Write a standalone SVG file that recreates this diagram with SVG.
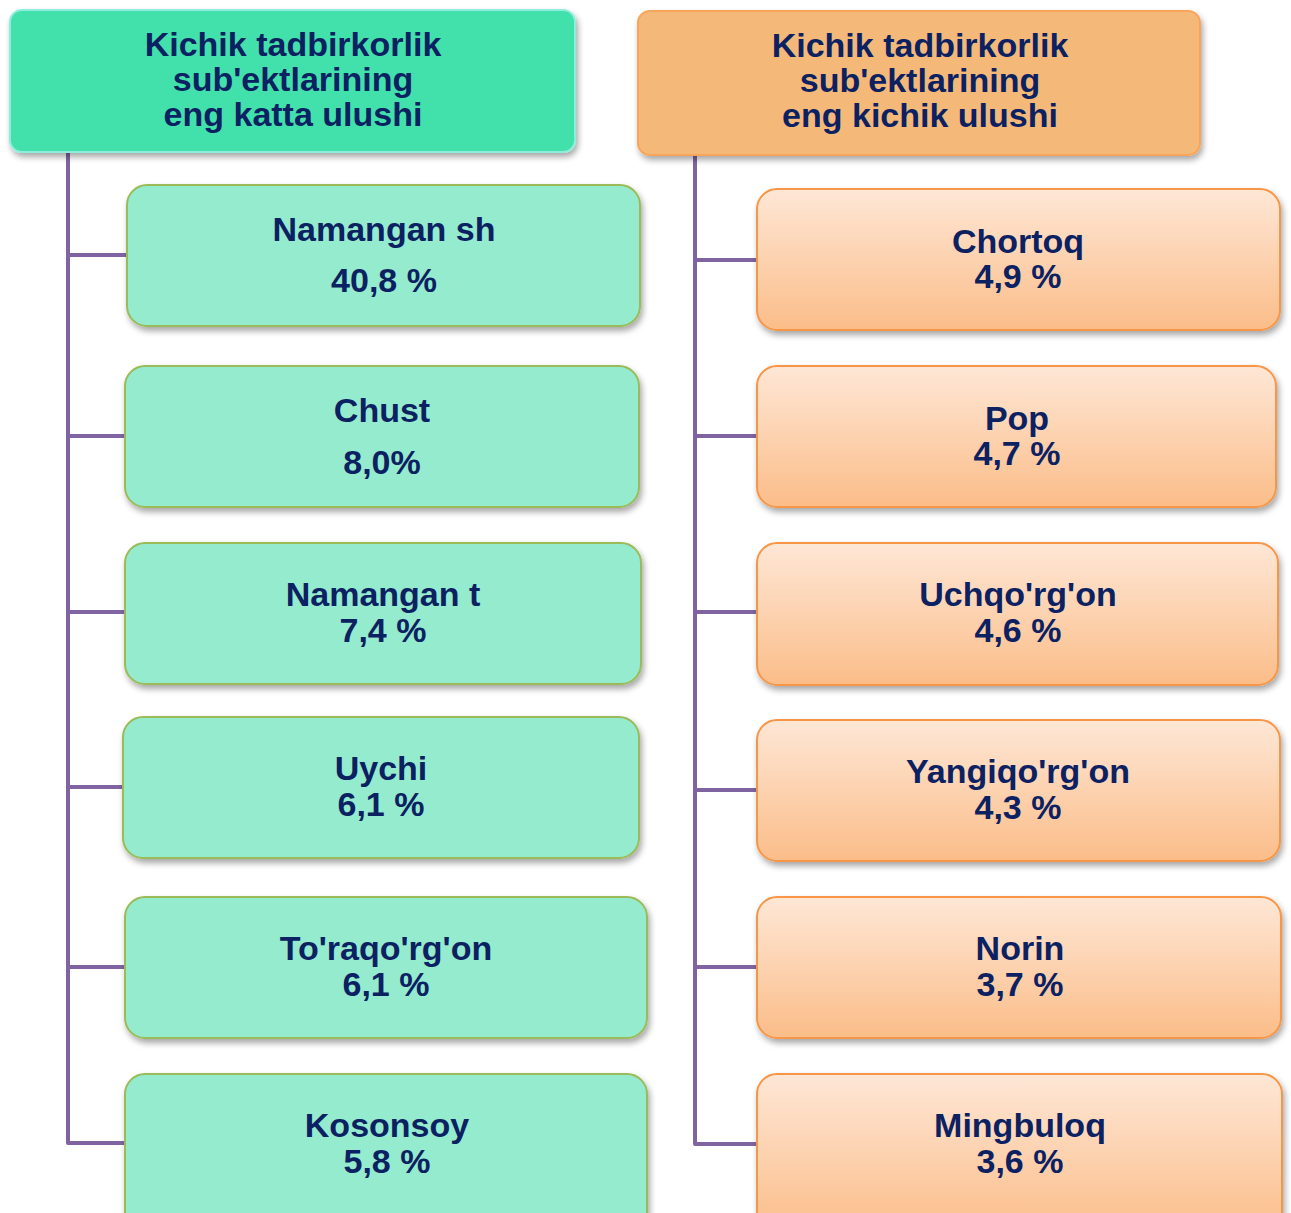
<svg xmlns="http://www.w3.org/2000/svg" width="1291" height="1213" viewBox="0 0 1291 1213">
<defs>
<filter id="sh" x="-5%" y="-10%" width="112%" height="130%">
<feDropShadow dx="2" dy="4" stdDeviation="3" flood-color="#000" flood-opacity="0.35"/>
</filter>
<linearGradient id="og" x1="0" y1="0" x2="0" y2="1">
<stop offset="0" stop-color="#fee7d6"/>
<stop offset="1" stop-color="#fbbd89"/>
</linearGradient>
<style>
text{font-family:"Liberation Sans",Arial,sans-serif;font-weight:bold;font-size:34px;fill:#0b2161;text-anchor:middle}
.hg{fill:#42e0ab;stroke:#8eeedd;stroke-width:2;filter:url(#sh)}
.ho{fill:#f4b979;stroke:#f8a55a;stroke-width:2;filter:url(#sh)}
.g{fill:#94ebce;stroke:#9bbb59;stroke-width:2;filter:url(#sh)}
.o{fill:url(#og);stroke:#f79646;stroke-width:2;filter:url(#sh)}
.c{fill:none;stroke:#8064a2;stroke-width:4;stroke-linejoin:round}
</style>
</defs>
<g id="connectors">
<path class="c" d="M68 152 V1143 H125 M68 255 H127 M68 436 H125 M68 612 H125 M68 787 H123 M68 967 H125"/>
<path class="c" d="M695 155 V1144 H757 M695 260 H757 M695 436 H757 M695 612 H757 M695 790 H757 M695 967 H757"/>
</g>
<g id="header-left">
<rect class="hg" x="10" y="10" width="565" height="142" rx="12"/>
<text x="293" y="56">Kichik tadbirkorlik</text>
<text x="293" y="91">sub'ektlarining</text>
<text x="293" y="126">eng katta ulushi</text>
</g>
<g id="header-right">
<rect class="ho" x="638" y="11" width="562" height="144" rx="12"/>
<text x="920" y="57">Kichik tadbirkorlik</text>
<text x="920" y="92">sub'ektlarining</text>
<text x="920" y="127">eng kichik ulushi</text>
</g>
<g id="l1"><rect class="g" x="127" y="185" width="513" height="141" rx="20"/><text x="384" y="241">Namangan sh</text><text x="384" y="292">40,8 %</text></g>
<g id="l2"><rect class="g" x="125" y="366" width="514" height="141" rx="20"/><text x="382" y="422">Chust</text><text x="382" y="474">8,0%</text></g>
<g id="l3"><rect class="g" x="125" y="543" width="516" height="141" rx="20"/><text x="383" y="606">Namangan t</text><text x="383" y="642">7,4 %</text></g>
<g id="l4"><rect class="g" x="123" y="717" width="516" height="141" rx="20"/><text x="381" y="780">Uychi</text><text x="381" y="816">6,1 %</text></g>
<g id="l5"><rect class="g" x="125" y="897" width="522" height="141" rx="20"/><text x="386" y="960">To'raqo'rg'on</text><text x="386" y="996">6,1 %</text></g>
<g id="l6"><rect class="g" x="125" y="1074" width="522" height="160" rx="20"/><text x="387" y="1137">Kosonsoy</text><text x="387" y="1173">5,8 %</text></g>
<g id="r1"><rect class="o" x="757" y="189" width="523" height="141" rx="20"/><text x="1018" y="253">Chortoq</text><text x="1018" y="288">4,9 %</text></g>
<g id="r2"><rect class="o" x="757" y="366" width="519" height="141" rx="20"/><text x="1017" y="430">Pop</text><text x="1017" y="465">4,7 %</text></g>
<g id="r3"><rect class="o" x="757" y="543" width="521" height="142" rx="20"/><text x="1018" y="606">Uchqo'rg'on</text><text x="1018" y="642">4,6 %</text></g>
<g id="r4"><rect class="o" x="757" y="720" width="523" height="141" rx="20"/><text x="1018" y="783">Yangiqo'rg'on</text><text x="1018" y="819">4,3 %</text></g>
<g id="r5"><rect class="o" x="757" y="897" width="524" height="141" rx="20"/><text x="1020" y="960">Norin</text><text x="1020" y="996">3,7 %</text></g>
<g id="r6"><rect class="o" x="757" y="1074" width="525" height="160" rx="20"/><text x="1020" y="1137">Mingbuloq</text><text x="1020" y="1173">3,6 %</text></g>
</svg>
